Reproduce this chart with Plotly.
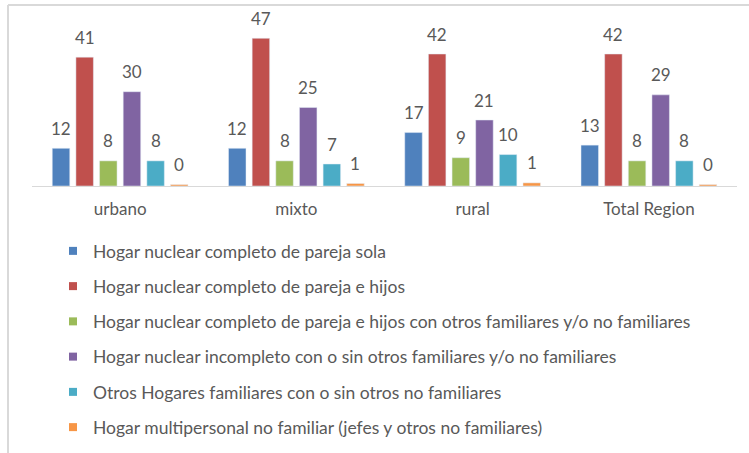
import plotly.graph_objects as go

categories = ["urbano", "mixto", "rural", "Total Region"]
series_names = [
    "Hogar nuclear completo de pareja sola",
    "Hogar nuclear completo de pareja e hijos",
    "Hogar nuclear completo de pareja e hijos con otros familiares y/o no familiares",
    "Hogar nuclear incompleto con o sin otros familiares y/o no familiares",
    "Otros Hogares familiares con o sin otros no familiares",
    "Hogar multipersonal no familiar (jefes y otros no familiares)",
]
pareja_sola = [12, 12, 17, 13]
pareja_hijos = [41, 47, 42, 42]
pareja_hijos_otros = [8, 8, 9, 8]
incompleto = [30, 25, 21, 29]
otros_hogares = [8, 7, 10, 8]
multipersonal = [0.45, 0.8, 1.0, 0.45]
series_values = [pareja_sola, pareja_hijos, pareja_hijos_otros, incompleto, otros_hogares, multipersonal]
colors = ["#4f81bd", "#c0504d", "#9bbb59", "#8064a2", "#4bacc6", "#f79646"]

W, H = 749, 453
ML, MR, MT, MB = 32, 12, 10, 267
plot_w = W - ML - MR
plot_h = H - MT - MB
BARGAP = 0.195
BARGROUPGAP = 0.26
FONT = "Lato"
GRAY = "#595959"
FS = 17
FS_LEG = 17.5

fig = go.Figure()
for i, (name, vals, col) in enumerate(zip(series_names, series_values, colors)):
    fig.add_trace(go.Bar(
        x=categories, y=vals, name=name, marker_color=col,
        legendgroup=f"g{i}", showlegend=False,
        hoverinfo="x+y+name",
    ))
for i, (name, col) in enumerate(zip(series_names, colors)):
    fig.add_trace(go.Scatter(
        x=[None], y=[None], mode="markers", name=name,
        marker=dict(symbol="square", size=8, color=col),
        legendgroup=f"g{i}", showlegend=True,
    ))

slot_px = plot_w / len(categories) * (1 - BARGAP) / len(series_values)
annotations = []
for i, vals in enumerate(series_values):
    for c, v in zip(categories, vals):
        annotations.append(dict(
            x=c, y=v, xref="x", yref="y", text=f"{v:.0f}", showarrow=False,
            xshift=(i - (len(series_values) - 1) / 2) * slot_px, yshift=20,
            yanchor="middle", font=dict(family=FONT, size=FS, color=GRAY),
        ))

def px_x(px):
    return (px - ML) / plot_w

def px_y(py):
    return (H - MB - py) / plot_h

shapes = [
    dict(type="line", xref="paper", yref="paper", x0=px_x(8), x1=px_x(8), y0=px_y(5), y1=px_y(H),
         line=dict(color="#d9d9d9", width=2)),
    dict(type="line", xref="paper", yref="paper", x0=px_x(8), x1=px_x(W), y0=px_y(5), y1=px_y(5),
         line=dict(color="#d9d9d9", width=2)),
]

fig.update_layout(
    width=W, height=H,
    margin=dict(l=ML, r=MR, t=MT, b=MB, autoexpand=False),
    paper_bgcolor="white", plot_bgcolor="white",
    barmode="group", bargap=BARGAP, bargroupgap=BARGROUPGAP,
    font=dict(family=FONT, size=FS, color=GRAY),
    xaxis=dict(showline=True, linecolor="#d9d9d9", linewidth=1, ticks="", ticklabelstandoff=8,
               tickfont=dict(family=FONT, size=FS, color=GRAY)),
    yaxis=dict(range=[0, 56], visible=False, showgrid=False, zeroline=False),
    showlegend=True,
    legend=dict(x=px_x(53), xanchor="left", y=px_y(233), yanchor="top",
                orientation="v", traceorder="grouped", tracegroupgap=9.5,
                font=dict(family=FONT, size=FS_LEG, color=GRAY), bgcolor="rgba(0,0,0,0)"),
    annotations=annotations,
    shapes=shapes,
)

fig.write_html("out.html", config={"displayModeBar": False},
               post_script="document.body.style.margin='0';document.body.style.overflow='hidden';")
